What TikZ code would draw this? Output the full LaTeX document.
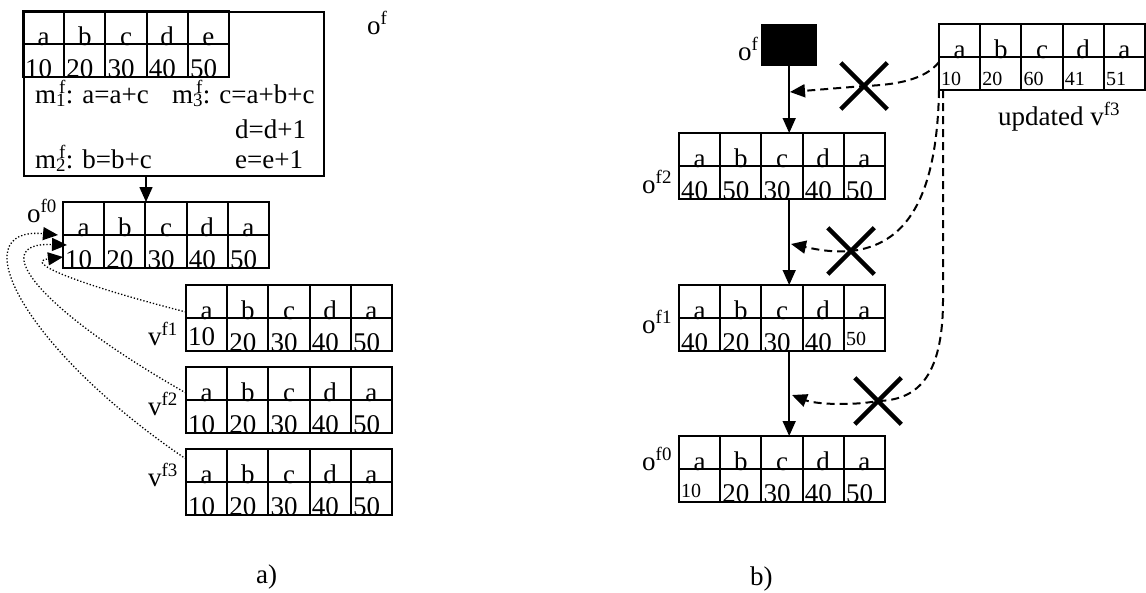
\documentclass[tikz,border=0pt]{standalone}
\usepackage{fontspec}
\setmainfont{Liberation Serif}
\usetikzlibrary{arrows.meta,shapes.misc,calc}
\newcommand{\sm}{\fontsize{20}{22}\selectfont}
\newcommand{\msub}[1]{m\rlap{\textsubscript{#1}}\kern3pt\textsuperscript{f}}
\newcommand{\mytab}[4]{%
  \node[tbox,anchor=north west] (#1) at #2 {};
  \foreach \k in {1,2,3,4}{\draw[tline] ([xshift={\k*41.2pt}]#1.north west) -- ([xshift={\k*41.2pt}]#1.south west);}
  \draw[tline] (#1.west) -- (#1.east);
  \foreach \t [count=\k] in {#3}{\node[lett] (#1-l\k) at ([xshift={\k*41.2pt-20.6pt},yshift=-1pt]#1.west) {\t};}
  \foreach \t [count=\k] in {#4}{\node[num] (#1-n\k) at ([xshift={(\k-1)*41.2pt+2pt}]#1.south west) {\t};}
}
\tikzset{
  tbox/.style={draw, line width=2pt, minimum width=206pt, minimum height=66pt, inner sep=0pt, outer sep=0pt},
  tline/.style={line width=2pt},
  lett/.style={inner sep=0pt, anchor=base},
  num/.style={inner sep=0pt, anchor=base west},
  lbl/.style={inner sep=0pt, anchor=base west},
  arr/.style={line width=1.6pt, -{Triangle[length=15pt,width=13pt]}},
  darr/.style={line width=2pt, dash pattern=on 8pt off 5pt, -{Triangle[length=15pt,width=13pt]}},
  dotarr/.style={line width=1.3pt, dash pattern=on 1.3pt off 2pt, -{Triangle[length=15pt,width=13pt]}},
  xmark/.style={cross out, draw, line width=4.5pt, minimum size=42pt, inner sep=0pt},
}
\begin{document}
\begin{tikzpicture}[x=1pt,y=-1pt,font=\fontsize{27}{30}\selectfont]
\useasboundingbox (0,0) rectangle (1146,592);
% ---------- part a ----------
\node[draw, line width=2pt, minimum width=300pt, minimum height=164pt, anchor=north west, inner sep=0pt] (bigbox) at (23,11) {};
\mytab{tf}{(23,11)}{a,b,c,d,e}{10,20,30,40,50}
\node[lbl] (m1) at (35,103) {\msub{1}: a=a+c};
\node[lbl] (m3) at (172,103) {\msub{3}: c=a+b+c};
\node[lbl] (dd) at (235,138) {d=d+1};
\node[lbl] (m2) at (35,168) {\msub{2}: b=b+c};
\node[lbl] (ee) at (235,168) {e=e+1};
\node[lbl] (lof) at (367,34) {o\textsuperscript{f}};

\mytab{lof0}{(63,202)}{a,b,c,d,a}{10,20,30,40,50}
\node[lbl] (llof0) at (27,222) {o\textsuperscript{f0}};
\draw[arr] ([xshift=-28pt]bigbox.south) -- ([xshift=-28pt]bigbox.south |- lof0.north);

\mytab{v1}{(186,285)}{a,b,c,d,a}{{\raisebox{6pt}{10}},20,30,40,50}
\mytab{v2}{(186,367)}{a,b,c,d,a}{10,20,30,40,50}
\mytab{v3}{(186,449)}{a,b,c,d,a}{10,20,30,40,50}
\node[lbl] (lv1) at (148,345) {v\textsuperscript{f1}};
\node[lbl] (lv2) at (148,415) {v\textsuperscript{f2}};
\node[lbl] (lv3) at (148,486) {v\textsuperscript{f3}};

\coordinate (tipa) at ([xshift=-5pt]lof0.west);
\coordinate (tipb) at ([xshift=4pt,yshift=-10pt]lof0.west);
\coordinate (tipc) at ([yshift=-22pt]lof0.west);
\draw[dotarr] ([yshift=-10pt]v3.north west) .. controls (25,350) and (-40,226) .. (tipa);
\draw[dotarr] ([yshift=7pt]v2.west) .. controls (40,310) and (-15,242) .. (tipb);
\draw[dotarr] ([yshift=6pt]v1.west) .. controls (80,285) and (22,262) .. (tipc);

\node[lbl] (capa) at (256,583) {a)};

% ---------- part b ----------
\node[fill=black, minimum width=56pt, minimum height=42pt, inner sep=0pt, anchor=north west] (ofb) at (761,24) {};
\node[lbl] (lofb) at (738,60) {o\textsuperscript{f}};

\mytab{of2}{(679,133)}{a,b,c,d,a}{40,50,30,40,50}
\mytab{of1}{(679,285)}{a,b,c,d,a}{40,20,30,40,{\raisebox{6pt}{\sm 50}}}
\mytab{rof0}{(679,436)}{a,b,c,d,a}{{\raisebox{5pt}{\sm 10}},20,30,40,50}
\node[lbl] (lof2) at (642,193) {o\textsuperscript{f2}};
\node[lbl] (lof1) at (642,333) {o\textsuperscript{f1}};
\node[lbl] (lrof0) at (642,470) {o\textsuperscript{f0}};

\draw[arr] (ofb.south) -- (ofb.south |- of2.north);
\draw[arr] (ofb.south |- of2.south) -- (ofb.south |- of1.north);
\draw[arr] (ofb.south |- of1.south) -- (ofb.south |- rof0.north);

\mytab{upd}{(939,24)}{a,b,c,d,a}{{\raisebox{5pt}{\sm 10}},{\raisebox{5pt}{\sm 20}},{\raisebox{5pt}{\sm 60}},{\raisebox{5pt}{\sm 41}},{\raisebox{5pt}{\sm 51}}}
\node[lbl] (lupd) at (998,125) {updated v\textsuperscript{f3}};

\node[xmark] (x1) at (864,86) {};
\node[xmark] (x2) at (851,251) {};
\node[xmark] (x3) at (878,401) {};
\coordinate (t1) at (790,92);
\coordinate (t2) at (791,244);
\coordinate (t3) at (792,395);
\draw[darr] ([yshift=-5pt]upd.west) .. controls (925,80) and (895,85) .. (x1.center) -- (t1);
\draw[darr] (upd.south west) .. controls (937,200) and (905,245) .. (x2.center) .. controls (830,253) and (810,248) .. (t2);
\draw[darr] ([xshift=4pt]upd.south west) -- (943,300) .. controls (943,380) and (915,400) .. (x3.center) .. controls (850,406) and (815,404) .. (t3);

\node[lbl] (capb) at (750,585) {b)};
\end{tikzpicture}
\end{document}
